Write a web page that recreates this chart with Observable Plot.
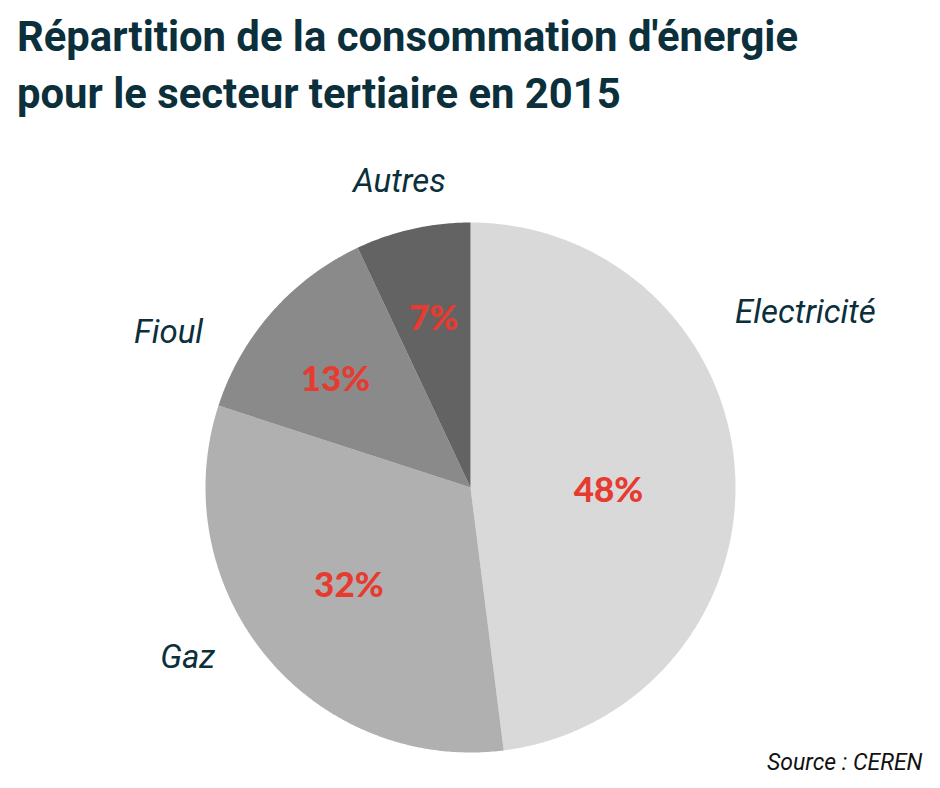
<!DOCTYPE html>
<html><head><meta charset="utf-8">
<script src="https://cdn.jsdelivr.net/npm/d3@7"></script>
<script src="https://cdn.jsdelivr.net/npm/@observablehq/plot@0.6"></script>
<style>
body{margin:0;background:#fff;width:940px;height:788px;overflow:hidden}
#title{margin:0;padding:8px 0 0 17px;height:127px;box-sizing:content-box;font-family:Roboto,sans-serif;font-weight:700;font-size:41.8px;line-height:57px;color:#0b2f3b;white-space:nowrap}
#chart svg{display:block}
</style></head><body>
<div id="title">Répartition de la consommation d'énergie<br>pour le secteur tertiaire en 2015</div>
<div id="chart"></div>
<script>
// ---- data ----
const categories = ["Electricité", "Gaz", "Fioul", "Autres"];
const values = [48, 32, 13, 7];
const pctLabels = ["48%", "32%", "13%", "7%"];
const source = "Source : CEREN";

// ---- style / layout ----
const colors = ["#d9d9d9", "#b0b0b0", "#8a8a8a", "#636363"];
const pctPos = [[91.2, 0.521], [231.2, 0.589], [308.7, 0.653], [347.7, 0.653]]; // [angle deg, radius fraction]
const namePos = [[62.4, 1.426], [239.0, 1.245], [297.2, 1.281], [346.9, 1.185]];
const W = 940, H = 653, R = 265, cx = 470, cy = 352;

const total = d3.sum(values);
const rad = a => a * Math.PI / 180;
let acc = 0;
const pts = [];
categories.forEach((c, i) => {
  const a0 = acc / total * 360, a1 = (acc + values[i]) / total * 360;
  acc += values[i];
  pts.push({cat: c, x: 0, y: 0});
  const n = Math.max(2, Math.ceil((a1 - a0) / 0.5));
  for (let k = 0; k <= n; k++) {
    const a = rad(a0 + (a1 - a0) * k / n);
    pts.push({cat: c, x: Math.sin(a), y: Math.cos(a)});
  }
  pts.push({cat: c, x: 0, y: 0});
});
const polar = ([a, r]) => ({x: r * Math.sin(rad(a)), y: r * Math.cos(rad(a))});
const pctData = categories.map((c, i) => ({...polar(pctPos[i]), t: pctLabels[i]}));
const nameData = categories.map((c, i) => ({...polar(namePos[i]), t: c}));

const chart = Plot.plot({
  width: W, height: H,
  margin: 0,
  x: {domain: [-cx / R, (W - cx) / R], axis: null},
  y: {domain: [-(H - cy) / R, cy / R], axis: null},
  color: {domain: categories, range: colors},
  style: {fontFamily: "Roboto, sans-serif", background: "white", overflow: "visible"},
  marks: [
    Plot.line(pts, {x: "x", y: "y", z: "cat", fill: "cat", stroke: null}),
    Plot.text(pctData, {x: "x", y: "y", text: "t", fill: "#e63b30", fontFamily: "Lato, sans-serif", fontWeight: 900, fontSize: 35}),
    Plot.text(nameData, {x: "x", y: "y", text: "t", fill: "#0b2f3b", fontStyle: "italic", fontSize: 33}),
    Plot.text([source], {frameAnchor: "bottom-right", text: d => d, dx: -18, dy: -19, fontStyle: "italic", fontSize: 23, fill: "#111"})
  ]
});
document.getElementById("chart").append(chart);
</script>
</body></html>
